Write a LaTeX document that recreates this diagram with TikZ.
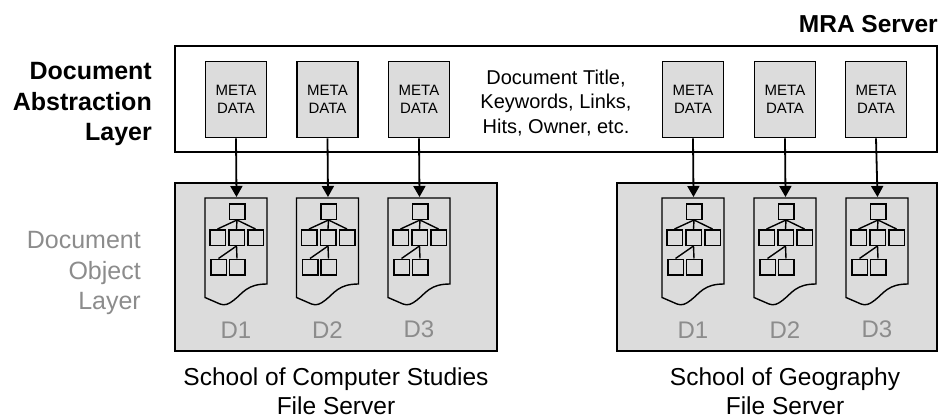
\documentclass[tikz,border=0pt]{standalone}
\usepackage{fontspec}
\setmainfont{Liberation Sans}
\usetikzlibrary{arrows.meta}
\definecolor{panelgray}{HTML}{DCDCDC}
\tikzset{
  panel/.style={draw=black,line width=1.6pt,fill=panelgray},
  metabox/.style={draw=black,line width=1.6pt,fill=panelgray,minimum width=61pt,%
    minimum height=76pt,inner sep=0pt,align=center,font=\fontsize{15}{18}\selectfont},
  treebox/.style={draw=black,line width=1.5pt,fill=panelgray,minimum size=15.5pt,inner sep=0pt},
  treeline/.style={line width=1.4pt},
  layertext/.style={align=right,anchor=east,font=\fontsize{25}{30.5}\selectfont},
  servertext/.style={align=center,inner sep=0pt,font=\fontsize{24.5}{29}\selectfont},
  dlabel/.style={text=black!45,font=\fontsize{24}{28}\selectfont},
  fetch/.style={line width=1.8pt,-{Triangle[length=11pt,width=12pt]}}
}
% one document: n = name, x = left edge, t = label, y = label height
\newcommand{\docpart}[4]{
  \begin{scope}[shift={(#2,0)}]
    \draw[line width=1.4pt] (0,198)--(62,198)--(62,284) .. controls (42,284) and (38,293) .. (29,300) %
      .. controls (24,304) and (20,306) .. (15,304) -- (0,297.5) -- cycle ;
    \coordinate (#1top) at (31.5,197) ;
    \node[treebox] (#1a) at (32,211.5) {} ;
    \node[treebox] (#1b) at (12.5,237.5) {} ;
    \node[treebox] (#1c) at (31.5,237.5) {} ;
    \node[treebox] (#1d) at (50.5,237.5) {} ;
    \node[treebox] (#1e) at (13.5,267) {} ;
    \node[treebox] (#1f) at (32,267) {} ;
    \draw[treeline] (#1a.south)--(#1b.north) ;
    \draw[treeline] (#1a.south)--(#1c.north) ;
    \draw[treeline] (#1a.south)--(#1d.north) ;
    \draw[treeline] (#1c.south)--(#1e.north) ;
    \draw[treeline] (#1c.south)--(#1f.north) ;
    \node[dlabel] (#1label) at (31,#4) {#3} ;
  \end{scope}
}
\begin{document}
\begin{tikzpicture}[x=1pt,y=-1pt]
  \useasboundingbox (0,0) rectangle (940,418) ;
  \node[anchor=east,inner xsep=0pt,font=\fontsize{24.5}{30}\selectfont\bfseries] (mra) at (938,24) {MRA Server} ;
  \draw[line width=1.7pt] (175,46) rectangle (937,152) ;
  \node[layertext,inner xsep=0pt,font=\fontsize{25}{30.5}\selectfont\bfseries] (abstraction) at (152,104) {Document\\Abstraction\\Layer} ;
  \node[layertext,inner xsep=0pt,text=black!45] (object) at (141,273) {Document\\Object\\Layer} ;
  \draw[panel] (175,183) rectangle (497,351) ;
  \draw[panel] (617,183) rectangle (937,351) ;
  \foreach \n/\x in {1/236,2/327.5,3/419,4/693,5/785,6/876}
    \node[metabox] (meta\n) at (\x,99.5) {META\\DATA} ;
  \node[align=center,font=\fontsize{20}{24.5}\selectfont] (fields) at (556,103) {Document Title,\\Keywords, Links,\\Hits, Owner, etc.} ;
  \docpart{doca}{205}{D1}{330}
  \docpart{docb}{296.5}{D2}{330}
  \docpart{docc}{388}{D3}{329}
  \docpart{docd}{662}{D1}{330}
  \docpart{doce}{754}{D2}{330}
  \docpart{docf}{846}{D3}{329}
  \foreach \n/\d in {1/doca,2/docb,3/docc,4/docd,5/doce,6/docf}
    \draw[fetch] (meta\n.south)--(\d top) ;
  \node[servertext] (compserver) at (336,391) {School of Computer Studies\\File Server} ;
  \node[servertext] (geoserver) at (785,391) {School of Geography\\File Server} ;
\end{tikzpicture}
\end{document}
